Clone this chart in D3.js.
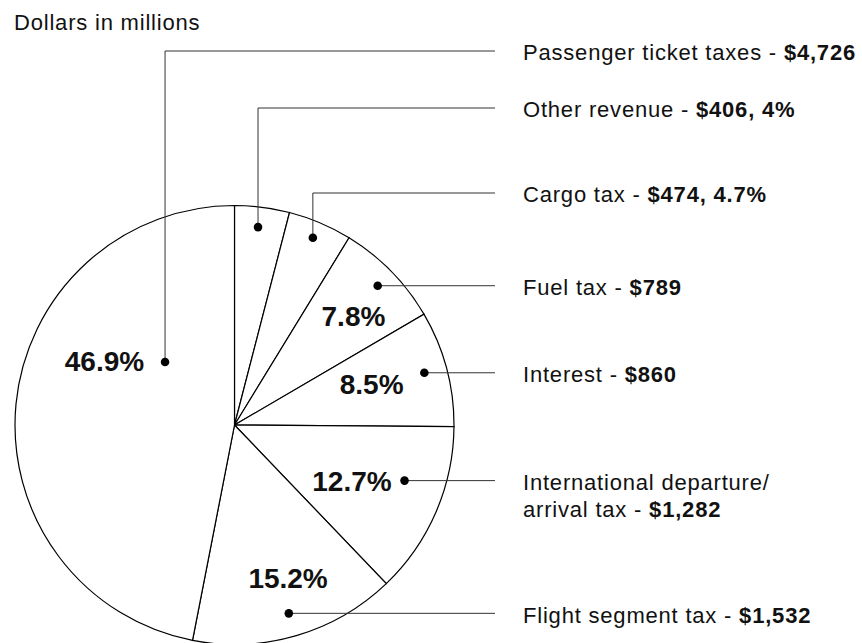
<!DOCTYPE html>
<html lang="en">
    <head>
        <meta charset="utf-8">
        <title>Dollars in millions</title>
        <script type="text/javascript" src="https://d3js.org/d3.v7.min.js"></script>
        <style type="text/css">
          body {
              margin: 0;
              background: white;
          }
          text {
              font-family: "Liberation Sans", Arial, Helvetica, sans-serif;
              fill: #111;
          }
          .slice {
              fill: white;
              stroke: black;
              stroke-width: 1.2px;
          }
          .leader {
              fill: none;
              stroke: #333;
              stroke-width: 1px;
          }
          .label {
              font-size: 22px;
              letter-spacing: 0.8px;
          }
          .pct {
              font-size: 28px;
              font-weight: bold;
          }
        </style>
    </head>
    <body>
        <script type="text/javascript">
          // chart data (slices run clockwise from 12 o'clock)
          var categories = ["Other revenue", "Cargo tax", "Fuel tax", "Interest",
                            "International departure/ arrival tax", "Flight segment tax",
                            "Passenger ticket taxes"];
          var values = [406, 474, 789, 860, 1282, 1532, 4726];
          var pctLabels = ["4%", "4.7%", "7.8%", "8.5%", "12.7%", "15.2%", "46.9%"];
          var valueLabels = ["$406, 4%", "$474, 4.7%", "$789", "$860", "$1,282", "$1,532", "$4,726"];
          var showPct = [false, false, true, true, true, true, true];

          // layout of the callouts, relative to each slice:
          // t = share of the slice's angle, r = share of the radius
          var dotPos = [[0.467, 0.908], [0.483, 0.925], [0.508, 0.91], [0.486, 0.897],
                        [0.386, 0.815], [0.505, 0.893], [0.717, 0.427]];
          var pctPos = [null, null, [0.569, 0.735], [0.446, 0.652],
                        [0.547, 0.593], [0.446, 0.738], [0.622, 0.66]];
          // elbow callouts go up to a label row, the others run straight across
          var elbowY = [108, 193, null, null, null, null, 51];

          var w = 862;
          var h = 643;
          var cx = 234.5;
          var cy = 425;
          var radius = 219.5;
          var leaderEnd = 495;
          var labelX = 523;

          var svg = d3.select("body").append("svg")
                      .attr("width", w)
                      .attr("height", h);

          svg.append("text")
             .attr("class", "label")
             .attr("x", 14)
             .attr("y", 30)
             .text("Dollars in millions");

          var pie = d3.pie().sort(null).value(function(d){ return d; });
          var arcs = pie(values);
          var arc = d3.arc().innerRadius(0).outerRadius(radius);

          var g = svg.append("g").attr("transform", "translate(" + cx + "," + cy + ")");

          g.selectAll("path.slice")
           .data(arcs)
           .enter()
           .append("path")
           .attr("class", "slice")
           .attr("d", arc);

          // point inside a slice, in pie coordinates
          function slicePoint(a, pos){
            var ang = a.startAngle + pos[0] * (a.endAngle - a.startAngle);
            var r = pos[1] * radius;
            return [r * Math.sin(ang), -r * Math.cos(ang)];
          }

          arcs.forEach(function(a, i){
            var p = slicePoint(a, dotPos[i]);
            var ly = elbowY[i] === null ? p[1] : elbowY[i] - cy;
            var pts = [p];
            if (elbowY[i] !== null) pts.push([p[0], ly]);
            pts.push([leaderEnd - cx, ly]);

            g.append("path")
             .attr("class", "leader")
             .attr("d", d3.line()(pts));
            g.append("circle")
             .attr("cx", p[0])
             .attr("cy", p[1])
             .attr("r", 4.3)
             .attr("fill", "black");

            // right hand label
            var t = g.append("text")
                     .attr("class", "label")
                     .attr("x", labelX - cx)
                     .attr("y", ly)
                     .attr("dy", "0.43em");
            var name = categories[i];
            if (name.indexOf("/ ") > 0) {
              var parts = name.split("/ ");
              t.append("tspan").text(parts[0] + "/");
              t.append("tspan")
               .attr("x", labelX - cx)
               .attr("dy", "1.21em")
               .text(parts[1] + " - ");
            } else {
              t.append("tspan").text(name + " - ");
            }
            t.append("tspan").attr("font-weight", "bold").text(valueLabels[i]);

            if (showPct[i]) {
              var q = slicePoint(a, pctPos[i]);
              g.append("text")
               .attr("class", "pct")
               .attr("x", q[0])
               .attr("y", q[1])
               .attr("dy", "0.36em")
               .attr("text-anchor", "middle")
               .text(pctLabels[i]);
            }
          });
        </script>
    </body>
</html>
